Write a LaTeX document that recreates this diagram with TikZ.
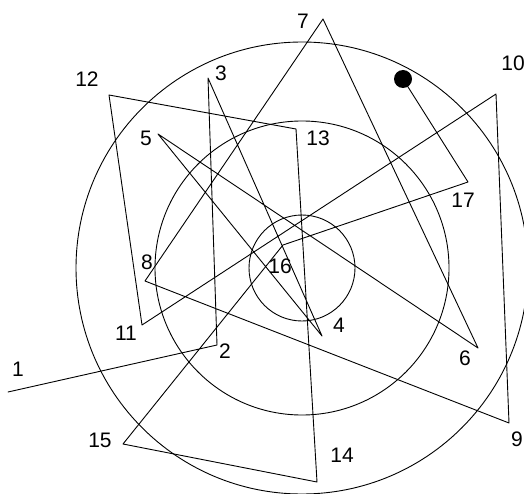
\documentclass[tikz,border=0pt]{standalone}
\usepackage{fontspec}
\setmainfont{Liberation Sans}
\usetikzlibrary{positioning}

\begin{document}
\begin{tikzpicture}[x=1pt,y=-1pt,line join=round,line cap=round,
    lbl/.style={font=\fontsize{21}{21}\selectfont,inner sep=0pt},
    enddot/.style={circle,fill,inner sep=0pt,minimum size=18pt}]
    \useasboundingbox (0,0) rectangle (524,494);
    % three circles round one centre
    \coordinate (c) at (302,268);
    \draw[line width=0.9pt] (c) circle[radius=226pt];
    \draw[line width=0.9pt] (c) circle[radius=147pt];
    \draw[line width=0.9pt] (c) circle[radius=53pt];
    % turning points of the path
    \coordinate (p1) at (8,392);
    \coordinate (p2) at (217,345);
    \coordinate (p3) at (208,78);
    \coordinate (p4) at (322,336);
    \coordinate (p5) at (158,134);
    \coordinate (p6) at (478,348);
    \coordinate (p7) at (323,19);
    \coordinate (p8) at (145,281);
    \coordinate (p9) at (509,423);
    \coordinate (p10) at (496,94);
    \coordinate (p11) at (142,325);
    \coordinate (p12) at (109,95);
    \coordinate (p13) at (296,129);
    \coordinate (p14) at (317,482);
    \coordinate (p15) at (123,444);
    \coordinate (p16) at (283,245);
    \coordinate (p17) at (468,182);
    \node[enddot] (stop) at (403,79) {};
    \draw[line width=0.9pt] (p1)--(p2)--(p3)--(p4)--(p5)--(p6)--(p7)--(p8)--(p9)
      --(p10)--(p11)--(p12)--(p13)--(p14)--(p15)--(p16)--(p17)--(stop.center);
    % numbers
    \node[lbl] (n1) at (18,369) {1};
    \node[lbl] (n2) at (225,351) {2};
    \node[lbl] (n3) at (221,73) {3};
    \node[lbl] (n4) at (339,325) {4};
    \node[lbl] (n5) at (146,138) {5};
    \node[lbl] (n6) at (465,358) {6};
    \node[lbl] (n7) at (303,21) {7};
    \node[lbl] (n8) at (147,262) {8};
    \node[lbl] (n9) at (517,439) {9};
    \node[lbl] (n10) at (513,63) {10};
    \node[lbl] (n11) at (126,333) {11};
    \node[lbl] (n12) at (87,79) {12};
    \node[lbl] (n13) at (318,138) {13};
    \node[lbl] (n14) at (342,455) {14};
    \node[lbl] (n15) at (100,440) {15};
    \node[lbl] (n16) at (280,266) {16};
    \node[lbl] (n17) at (463,200) {17};
  \end{tikzpicture}
\end{document}
